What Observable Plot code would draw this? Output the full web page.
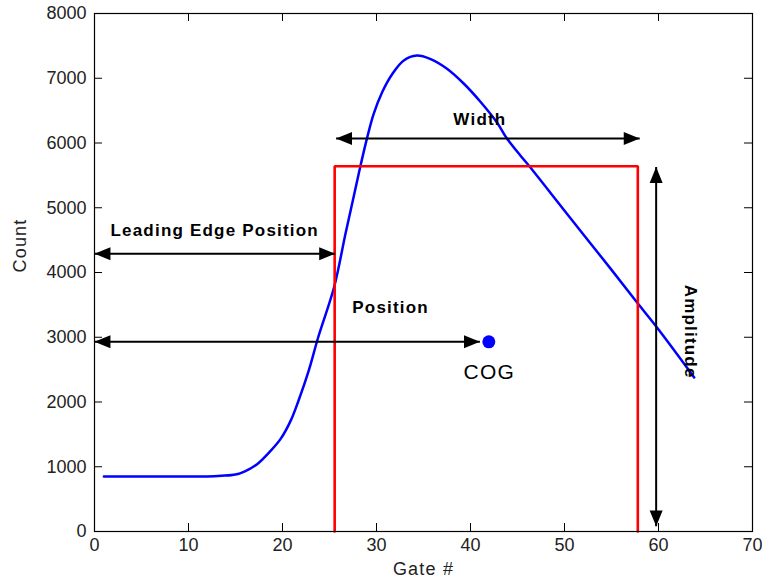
<!DOCTYPE html>
<html><head><meta charset="utf-8">
<script src="https://cdn.jsdelivr.net/npm/d3@7"></script>
<script src="https://cdn.jsdelivr.net/npm/@observablehq/plot@0.6"></script>
<style>
body{margin:0;background:#fff;}
g[aria-label="text"] text{letter-spacing:1.2px;}
</style></head><body><div id="chart"></div>
<script>
// Waveform (blue)
const gate  = [1, 7, 12, 13.5, 15, 16, 17.3, 18.7, 19.8, 20.9, 21.7, 22.8, 23.8, 25.5, 26.7, 27.6, 28.3, 29.0, 29.7, 30.6, 31.7, 32.9, 34.3, 35.7, 37.5, 39.3, 41.1, 42.8, 43.9, 45.3, 46.2, 50.3, 54.9, 57.7, 59.9, 63.8];
const count = [850, 850, 850, 860, 880, 930, 1040, 1240, 1430, 1720, 2020, 2490, 3000, 3780, 4600, 5190, 5650, 6080, 6450, 6785, 7070, 7275, 7352, 7300, 7147, 6915, 6630, 6321, 6065, 5807, 5652, 4900, 4060, 3540, 3140, 2380];
// Box (red)
const boxGate  = [25.55, 25.55, 57.8, 57.8];
const boxCount = [0, 5640, 5640, 0];
// Centre of gravity
const cogGate = [41.95];
const cogCount = [2930];
// Annotation arrows
const arrowX1 = [0, 0, 25.7, 59.75];
const arrowY1 = [4290, 2930, 6070, 80];
const arrowX2 = [25.6, 41.0, 58, 59.75];
const arrowY2 = [4290, 2930, 6070, 5630];
// Annotation labels
const leLabel = ["Leading Edge Position"], leX = [1.7], leY = [4650];
const boldLabels = ["Position", "Width"], boldX = [31.5, 41.0], boldY = [3462, 6363];
const cogLabel = ["COG"], cogLabelX = [42.0], cogLabelY = [2453];
const ampLabel = ["Amplitude"], ampX = [63.4], ampY = [3087];
// Axes
const xTicks = [0, 10, 20, 30, 40, 50, 60, 70];
const yTicks = [0, 1000, 2000, 3000, 4000, 5000, 6000, 7000, 8000];
const xLabel = ["Gate #"], yLabel = ["Count"];

const curve = gate.map((g, i) => ({g, c: count[i]}));
const box = boxGate.map((g, i) => ({g, c: boxCount[i]}));
const arrows = arrowX1.map((x1, i) => ({x1, y1: arrowY1[i], x2: arrowX2[i], y2: arrowY2[i]}));
const heads = arrows.flatMap(a => {
  const ang = Math.atan2(a.x2 - a.x1, a.y2 - a.y1) * 180 / Math.PI;
  return [{x: a.x2, y: a.y2, r: ang}, {x: a.x1, y: a.y1, r: ang + 180}];
});
const arrowHead = {
  draw(ctx, size) {
    const r = Math.sqrt(size / Math.PI);
    ctx.moveTo(0, 0);
    ctx.lineTo(-r, 2.45 * r);
    ctx.lineTo(r, 2.45 * r);
    ctx.closePath();
  }
};

const W = 762, H = 588, mt = 13, mb = 57, ml = 94, mr = 10;
const innerH = H - mt - mb, innerW = W - ml - mr, tk = 8;

const chart = Plot.plot({
  width: W, height: H,
  marginTop: mt, marginBottom: mb, marginLeft: ml, marginRight: mr,
  style: {fontFamily: "'Liberation Sans', Arial, sans-serif", fontSize: "18px", background: "#fff", color: "#000"},
  x: {domain: [0, 70], label: null},
  y: {domain: [0, 8000], label: null},
  marks: [
    Plot.axisX(xTicks, {tickSize: 0, tickPadding: 7, fontSize: 18, fill: "#222", tickFormat: d => String(d)}),
    Plot.axisY(yTicks, {tickSize: 0, tickPadding: 8, fontSize: 18, fill: "#222", tickFormat: d => String(d)}),
    Plot.tickX(xTicks, {x: d => d, insetTop: innerH - tk, stroke: "#000"}),
    Plot.tickX(xTicks, {x: d => d, insetBottom: innerH - tk, stroke: "#000"}),
    Plot.tickY(yTicks, {y: d => d, insetRight: innerW - tk, stroke: "#000"}),
    Plot.tickY(yTicks, {y: d => d, insetLeft: innerW - tk, stroke: "#000"}),
    Plot.line(curve, {x: "g", y: "c", stroke: "#0000ff", strokeWidth: 2.5, curve: "catmull-rom"}),
    Plot.line(box, {x: "g", y: "c", stroke: "#ff0000", strokeWidth: 2.6, strokeLinejoin: "miter"}),
    Plot.link(arrows, {x1: "x1", y1: "y1", x2: "x2", y2: "y2", stroke: "#000", strokeWidth: 2}),
    Plot.dot(heads, {x: "x", y: "y", rotate: "r", symbol: arrowHead, r: 6.5, fill: "#000", stroke: "none"}),
    Plot.dot(cogGate, {x: d => d, y: (d, i) => cogCount[i], r: 6.5, fill: "#0000ff", stroke: "none"}),
    Plot.text(leLabel, {x: (d, i) => leX[i], y: (d, i) => leY[i], text: d => d, textAnchor: "start", fontWeight: "bold", fontSize: 17, fill: "#000"}),
    Plot.text(boldLabels, {x: (d, i) => boldX[i], y: (d, i) => boldY[i], text: d => d, fontWeight: "bold", fontSize: 17, fill: "#000"}),
    Plot.text(ampLabel, {x: (d, i) => ampX[i], y: (d, i) => ampY[i], text: d => d, rotate: 90, fontWeight: "bold", fontSize: 17, fill: "#000"}),
    Plot.text(cogLabel, {x: (d, i) => cogLabelX[i], y: (d, i) => cogLabelY[i], text: d => d, fontSize: 21, fill: "#000"}),
    Plot.text(xLabel, {frameAnchor: "bottom", dy: 43, text: d => d, fontSize: 18, fill: "#222"}),
    Plot.text(yLabel, {frameAnchor: "left", dx: -74, rotate: -90, text: d => d, fontSize: 18, fill: "#222"}),
    Plot.frame({stroke: "#000", strokeWidth: 1.2})
  ]
});
document.getElementById("chart").appendChild(chart);
</script></body></html>
